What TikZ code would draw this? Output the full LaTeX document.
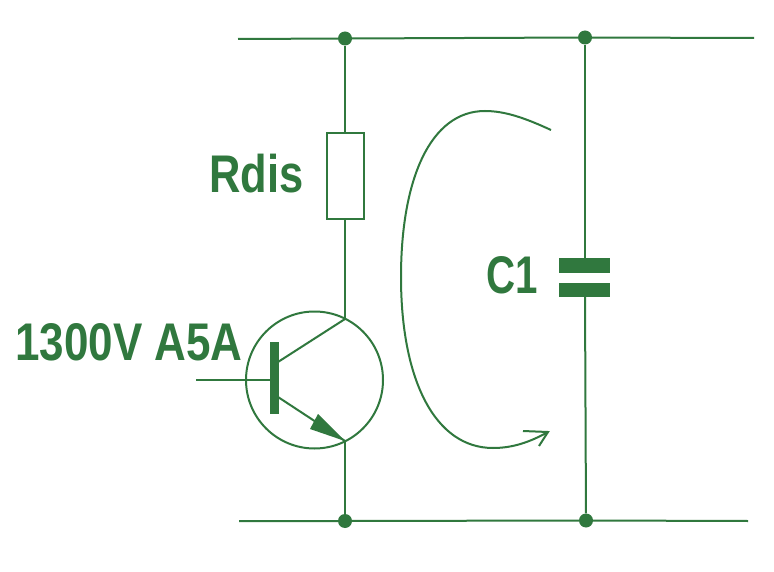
\documentclass[tikz,border=0pt]{standalone}
\usepackage{fontspec}
\setmainfont{Liberation Sans}
\definecolor{grn}{RGB}{48,120,62}
\tikzset{wire/.style={draw=grn,line width=2pt},
 dotn/.style={circle,fill=grn,inner sep=0pt,minimum size=14pt},
 lbl/.style={text=grn,font=\bfseries\fontsize{53}{53}\selectfont,inner sep=0pt}}
\begin{document}
\begin{tikzpicture}[x=1pt,y=-1pt]
\useasboundingbox (0,0) rectangle (774,572);
\fill[white] (0,0) rectangle (774,572);
\coordinate (tl) at (238,39);
\coordinate (tr) at (754,38);
\coordinate (bl) at (239,521);
\coordinate (br) at (748,521);
\node[dotn] (t1) at (345,38.5) {};
\node[dotn] (t2) at (585,37.5) {};
\node[dotn] (b1) at (345,521) {};
\node[dotn] (b2) at (586,520.5) {};
\draw[wire] (tl) -- (t1) -- (t2) -- (tr);
\draw[wire] (bl) -- (b1) -- (b2) -- (br);
\node[draw=grn,line width=2pt,minimum width=37pt,minimum height=86pt,inner sep=0pt] (R) at (345,176) {};
\draw[wire] (t1) -- (R.north);
\coordinate (c) at (345,319);
\coordinate (e) at (345,441);
\draw[wire] (R.south) -- (c);
\draw[wire] (e) -- (b1);
\node[draw=grn,circle,line width=2pt,minimum size=137pt,inner sep=0pt] (Q) at (314.5,380) {};
\fill[grn] (270,342) rectangle (279,414);
\coordinate (b) at (196,379.5);
\draw[wire] (b) -- (272,379.5);
\draw[wire] (278,362) -- (c);
\draw[wire] (278,397) -- (e);
\fill[grn] (345,441) -- (310,429) -- (318,414) -- cycle;
\fill[grn] (559,258) rectangle (610,273);
\fill[grn] (559,283) rectangle (610,297);
\draw[wire] (t2) -- (585,258);
\draw[wire] (585,297) -- (b2);
\draw[wire] (551,130) .. controls (525,118) and (505,111) .. (485,111)
 .. controls (430,111) and (401,180) .. (401,277)
 .. controls (401,380) and (435,448) .. (493,448)
 .. controls (513,448) and (530,442) .. (548,432);
\draw[wire] (523,431) -- (548,432) -- (539,446);
\node[lbl] (t1a) at (256.5,174) {\scalebox{0.82}[1]{Rdis}};
\node[lbl] (t2a) at (129,342) {\scalebox{0.83}[1]{1300V A5A}};
\node[lbl] (t3a) at (512,275.5) {\scalebox{0.76}[1]{C1}};
\end{tikzpicture}
\end{document}
